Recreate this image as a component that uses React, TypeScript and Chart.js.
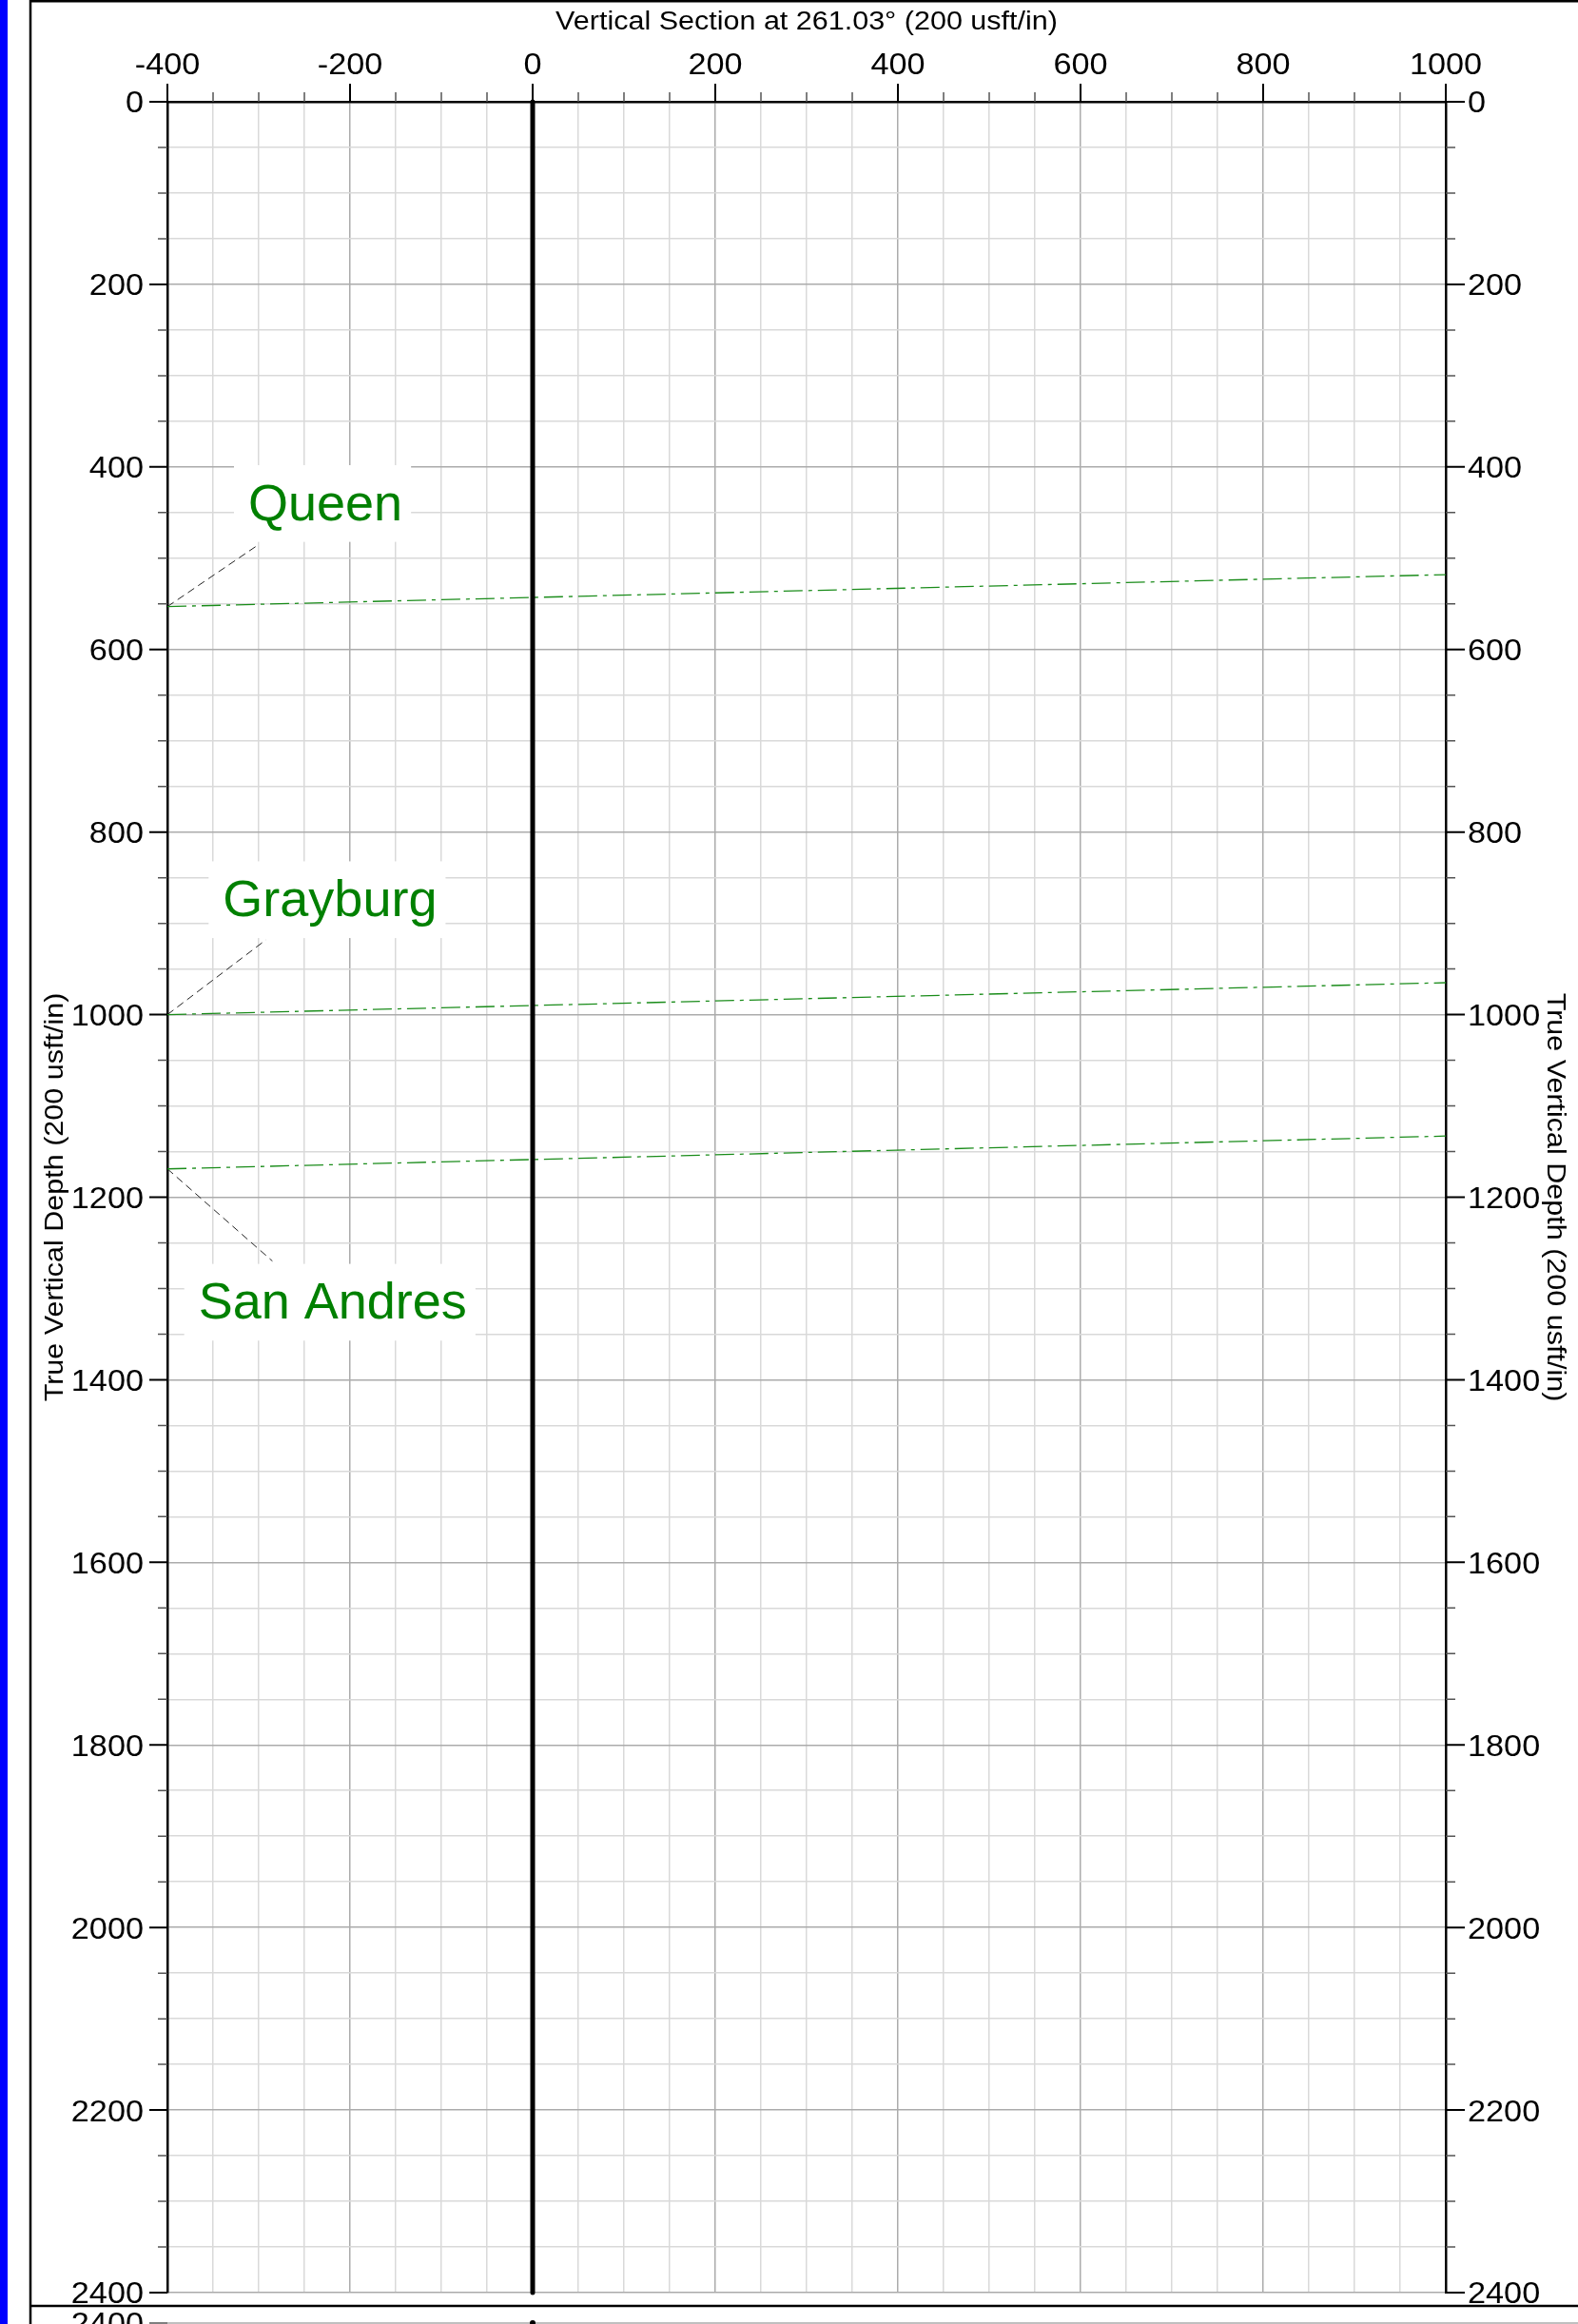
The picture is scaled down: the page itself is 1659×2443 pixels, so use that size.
import React, { useEffect, useRef } from "react";
import { Chart, registerables } from "chart.js";

Chart.register(...registerables);

// ---- axis ranges / ticks ----
const VS_MIN = -400;
const VS_MAX = 1000;
const TVD_MIN = 0;
const TVD_MAX = 2400;
const GRID_STEP = 50;
const MAJOR_STEP = 200;

const vsTickLabels = [-400, -200, 0, 200, 400, 600, 800, 1000];
const tvdTickLabels = [0, 200, 400, 600, 800, 1000, 1200, 1400, 1600, 1800, 2000, 2200, 2400];

const xTitle = "Vertical Section at 261.03° (200 usft/in)";
const yTitle = "True Vertical Depth (200 usft/in)";

// ---- well path ----
const wellVS = [0, 0];
const wellTVD = [0, 2400];

// ---- formation tops ----
const formationNames = ["Queen", "Grayburg", "San Andres"];
const formationTvdAtMin = [553, 1000, 1169];
const formationTvdAtMax = [518, 965, 1133];
const labelVS = [-227, -222, -219];
const labelTVD = [438, 872, 1313];
const leaderVS = [-300, -292, -285];
const leaderTVD = [485, 918, 1270];

const FONT = "'Liberation Sans', Arial, Helvetica, sans-serif";
const TICK_SIZE = 32;
const TICK_SX = 1.07;
const TITLE_SIZE = 27;
const TITLE_SX = 1.13;

function drawText(ctx: CanvasRenderingContext2D, text: string, x: number, y: number, sx: number, align: CanvasTextAlign, rot = 0) {
  ctx.save();
  ctx.translate(x, y);
  if (rot) ctx.rotate(rot);
  ctx.scale(sx, 1);
  ctx.textAlign = align;
  ctx.textBaseline = "alphabetic";
  ctx.fillText(text, 0, 0);
  ctx.restore();
}

const isMajor = (v: number) => Math.abs(v % MAJOR_STEP) < 1e-6;

const framePlugin = {
  id: "frame",
  beforeDraw(chart: any) {
    const { ctx, width, height } = chart;
    ctx.save();
    ctx.fillStyle = "#ffffff";
    ctx.fillRect(0, 0, width, height);
    ctx.fillStyle = "#0000ff";
    ctx.fillRect(0, 0, 8, height);
    ctx.strokeStyle = "#000";
    ctx.lineWidth = 2.5;
    ctx.beginPath();
    ctx.moveTo(width + 5, 1.25);
    ctx.lineTo(32, 1.25);
    ctx.lineTo(32, height + 5);
    ctx.moveTo(32, 2424);
    ctx.lineTo(width + 5, 2424);
    ctx.stroke();
    ctx.restore();
  },
  afterDatasetsDraw(chart: any) {
    const { ctx } = chart;
    const xs = chart.scales.x;
    const ys = chart.scales.y;
    const size = 54;
    ctx.save();
    ctx.font = `${size}px ${FONT}`;
    formationNames.forEach((name, i) => {
      const cx = xs.getPixelForValue(labelVS[i]);
      const cy = ys.getPixelForValue(labelTVD[i]);
      const w = ctx.measureText(name).width;
      const cap = size * 0.716;
      const baseline = cy + cap / 2;
      ctx.fillStyle = "#ffffff";
      ctx.fillRect(cx - w / 2 - 15, baseline - cap - 19, w + 24, cap + 42);
      ctx.fillStyle = "#008000";
      ctx.textAlign = "center";
      ctx.textBaseline = "alphabetic";
      ctx.fillText(name, cx, baseline);
    });
    ctx.restore();
  },
  afterDraw(chart: any) {
    const { ctx, chartArea, width } = chart;
    const xs = chart.scales.x;
    const ys = chart.scales.y;
    const { left, right, top, bottom } = chartArea;
    ctx.save();
    // tick marks
    xs.ticks.forEach((t: any) => {
      const px = xs.getPixelForValue(t.value);
      const maj = isMajor(t.value);
      ctx.strokeStyle = maj ? "#000" : "#555";
      ctx.lineWidth = maj ? 2 : 1.5;
      ctx.beginPath();
      ctx.moveTo(px, top);
      ctx.lineTo(px, top - (maj ? 19 : 10));
      ctx.stroke();
    });
    ys.ticks.forEach((t: any) => {
      const py = ys.getPixelForValue(t.value);
      const maj = isMajor(t.value);
      ctx.strokeStyle = maj ? "#000" : "#555";
      ctx.lineWidth = maj ? 2 : 1.5;
      ctx.beginPath();
      ctx.moveTo(left, py);
      ctx.lineTo(left - (maj ? 19 : 10), py);
      ctx.moveTo(right, py);
      ctx.lineTo(right + (maj ? 20 : 10), py);
      ctx.stroke();
    });
    // tick labels
    const digitH = TICK_SIZE * 0.716;
    ctx.fillStyle = "#000";
    ctx.font = `${TICK_SIZE}px ${FONT}`;
    vsTickLabels.forEach((v) => {
      drawText(ctx, String(v), xs.getPixelForValue(v), top - 29, TICK_SX, "center");
    });
    tvdTickLabels.forEach((v) => {
      const py = ys.getPixelForValue(v) + digitH / 2;
      drawText(ctx, String(v), left - 25, py, TICK_SX, "right");
      drawText(ctx, String(v), right + 23, py, TICK_SX, "left");
    });
    // titles
    ctx.font = `${TITLE_SIZE}px ${FONT}`;
    drawText(ctx, xTitle, (left + right) / 2, 31, TITLE_SX, "center");
    const cy = (top + bottom) / 2;
    drawText(ctx, yTitle, 66, cy, TITLE_SX, "center", -Math.PI / 2);
    drawText(ctx, yTitle, 1627, cy, TITLE_SX, "center", Math.PI / 2);

    // start of next panel (cut off at the bottom edge)
    const nextY = 2442;
    ctx.strokeStyle = "#aaaaaa";
    ctx.lineWidth = 1.5;
    ctx.beginPath();
    ctx.moveTo(left, nextY);
    ctx.lineTo(width, nextY);
    ctx.stroke();
    ctx.strokeStyle = "#555";
    ctx.beginPath();
    ctx.moveTo(left - 19, nextY);
    ctx.lineTo(left, nextY);
    ctx.stroke();
    ctx.font = `${TICK_SIZE}px ${FONT}`;
    drawText(ctx, String(tvdTickLabels[tvdTickLabels.length - 1]), left - 25, nextY + digitH / 2, TICK_SX, "right");
    ctx.fillStyle = "#000";
    ctx.beginPath();
    ctx.arc(xs.getPixelForValue(wellVS[0]), nextY, 3, 0, Math.PI * 2);
    ctx.fill();
    ctx.restore();
  },
};

const gridColor = (ctx: any) => (isMajor(ctx.tick.value) ? "#ababab" : "#d9d9d9");

export default function App() {
  const ref = useRef<HTMLCanvasElement | null>(null);
  useEffect(() => {
    if (!ref.current) return;
    const datasets: any[] = [
      {
        label: "Well",
        data: wellVS.map((x, i) => ({ x, y: wellTVD[i] })),
        borderColor: "#000",
        borderWidth: 5,
        borderCapStyle: "round",
        showLine: true,
        pointRadius: 0,
        clip: 5,
      },
      ...formationNames.map((n, i) => ({
        label: n,
        data: [
          { x: VS_MIN, y: formationTvdAtMin[i] },
          { x: VS_MAX, y: formationTvdAtMax[i] },
        ],
        borderColor: "#1a8c1a",
        borderWidth: 1.3,
        borderDash: [20, 6, 4, 6],
        showLine: true,
        pointRadius: 0,
      })),
      ...formationNames.map((n, i) => ({
        label: n + " leader",
        data: [
          { x: VS_MIN, y: formationTvdAtMin[i] },
          { x: leaderVS[i], y: leaderTVD[i] },
        ],
        borderColor: "#222",
        borderWidth: 1,
        borderDash: [8, 5],
        showLine: true,
        pointRadius: 0,
      })),
    ];
    const chart = new Chart(ref.current, {
      type: "scatter",
      data: { datasets },
      plugins: [framePlugin],
      options: {
        animation: false,
        responsive: false,
        maintainAspectRatio: false,
        devicePixelRatio: 1,
        layout: { padding: { left: 0, top: 0, right: 0, bottom: 33 } },
        plugins: { legend: { display: false }, tooltip: { enabled: false } },
        scales: {
          x: {
            type: "linear",
            position: "top",
            min: VS_MIN,
            max: VS_MAX,
            ticks: { stepSize: GRID_STEP, display: false, autoSkip: false },
            grid: { color: gridColor, lineWidth: 1.5, drawTicks: false },
            border: { display: true, color: "#000", width: 2.5 },
            afterFit: (s: any) => {
              s.height = 107;
            },
          },
          y: {
            type: "linear",
            position: "left",
            reverse: true,
            min: TVD_MIN,
            max: TVD_MAX,
            ticks: { stepSize: GRID_STEP, display: false, autoSkip: false },
            grid: { color: gridColor, lineWidth: 1.5, drawTicks: false },
            border: { display: true, color: "#000", width: 2.5 },
            afterFit: (s: any) => {
              s.width = 176;
            },
          },
          y2: {
            type: "linear",
            position: "right",
            reverse: true,
            min: TVD_MIN,
            max: TVD_MAX,
            ticks: { stepSize: GRID_STEP, display: false, autoSkip: false },
            grid: { drawOnChartArea: false, drawTicks: false },
            border: { display: true, color: "#000", width: 2.5 },
            afterFit: (s: any) => {
              s.width = 139;
            },
          },
        },
      } as any,
    });
    return () => chart.destroy();
  }, []);
  return (
    <div style={{ position: "absolute", left: 0, top: 0, width: 1659, height: 2443 }}>
      <canvas ref={ref} width={1659} height={2443} style={{ display: "block", width: 1659, height: 2443 }} />
    </div>
  );
}
